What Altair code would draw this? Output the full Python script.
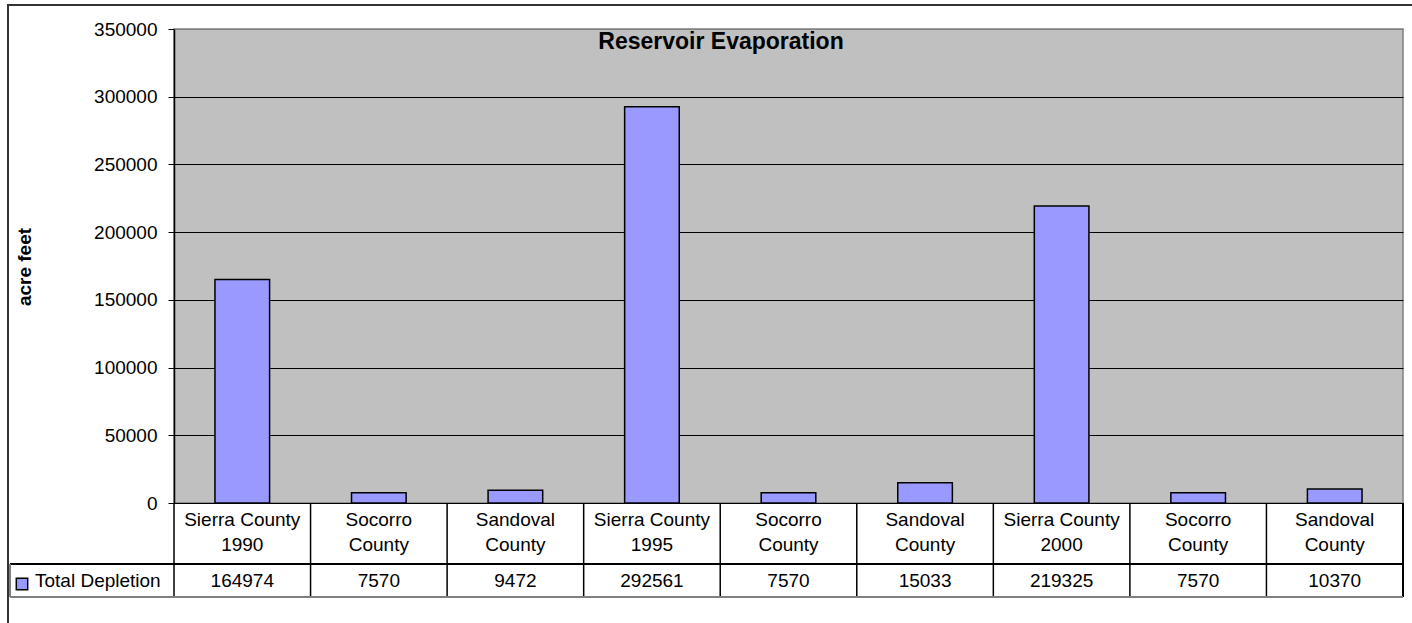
import altair as alt
import pandas as pd

# Chart content
chart_title = "Reservoir Evaporation"
axis_title = "acre feet"
series_name = "Total Depletion"
label_top = ["Sierra County", "Socorro", "Sandoval",
             "Sierra County", "Socorro", "Sandoval",
             "Sierra County", "Socorro", "Sandoval"]
label_bottom = ["1990", "County", "County",
                "1995", "County", "County",
                "2000", "County", "County"]
total_depletion = [164974, 7570, 9472, 292561, 7570, 15033, 219325, 7570, 10370]
y_ticks = [0, 50000, 100000, 150000, 200000, 250000, 300000, 350000]

FONT = "Liberation Sans"
BAR_FILL = "#9999FF"

df = pd.DataFrame({
    "slot": list(range(len(total_depletion))),
    "label": [a + "\n" + b for a, b in zip(label_top, label_bottom)],
    "value": total_depletion,
})

W, H = 1229, 474

x_enc = alt.X("slot:O", scale=alt.Scale(paddingInner=0, paddingOuter=0), axis=None)

base = alt.Chart(df)

bars = base.mark_bar(
    width=alt.RelativeBandSize(0.4), color=BAR_FILL, stroke="black", strokeWidth=1.5
).encode(
    x=x_enc,
    y=alt.Y(
        "value:Q",
        scale=alt.Scale(domain=[0, 350000], nice=False, zero=True),
        axis=alt.Axis(
            values=y_ticks, title=None, format="d",
            grid=True,
            gridColor={"condition": {"test": "datum.value === 350000", "value": "#808080"},
                       "value": "black"},
            gridWidth=1,
            domainColor="black", domainWidth=1.5,
            tickColor="black", tickSize=6,
            labelFont=FONT, labelFontSize=19, labelColor="black", labelPadding=11,
        ),
    ),
)

# Data table: category labels and values under the plot
cat_labels = base.mark_text(
    font=FONT, fontSize=19, color="black", lineBreak="\n", lineHeight=25, baseline="middle"
).encode(x=x_enc, y=alt.value(H + 17), text="label:N")

value_labels = base.mark_text(
    font=FONT, fontSize=19, color="black", baseline="middle"
).encode(x=x_enc, y=alt.value(H + 78), text=alt.Text("value:Q", format="d"))

col_rules = base.mark_rule(color="black", strokeWidth=1.5).encode(
    x=alt.X("slot:O", bandPosition=0, scale=alt.Scale(paddingInner=0, paddingOuter=0), axis=None),
    y=alt.value(H), y2=alt.value(H + 94),
)
right_rule = base.mark_rule(color="black", strokeWidth=1.5).encode(
    x=alt.value(W), y=alt.value(H), y2=alt.value(H + 94)
)
row_rule = base.mark_rule(color="black", strokeWidth=1.5).encode(
    x=alt.value(-164), x2=alt.value(W), y=alt.value(H + 61)
)
bottom_rule = base.mark_rule(color="#808080", strokeWidth=2).encode(
    x=alt.value(-164), x2=alt.value(W), y=alt.value(H + 94)
)
left_rule = base.mark_rule(color="#808080", strokeWidth=2).encode(
    x=alt.value(-164), y=alt.value(H + 61), y2=alt.value(H + 94)
)

legend_df = pd.DataFrame({"name": [series_name]})
legend_symbol = alt.Chart(legend_df).mark_point(
    shape="square", filled=True, fill=BAR_FILL, stroke="black", strokeWidth=1.5, size=130, opacity=1
).encode(x=alt.value(-152), y=alt.value(H + 81))
legend_text = alt.Chart(legend_df).mark_text(
    font=FONT, fontSize=19, color="black", align="left", baseline="middle"
).encode(x=alt.value(-139), y=alt.value(H + 78), text="name:N")

# Title and y-axis title
title_df = pd.DataFrame({"t": [chart_title]})
title = alt.Chart(title_df).mark_text(
    font=FONT, fontSize=23, fontWeight="bold", color="black", baseline="alphabetic"
).encode(x=alt.value(547), y=alt.value(20), text="t:N")

ytitle_df = pd.DataFrame({"t": [axis_title]})
ytitle = alt.Chart(ytitle_df).mark_text(
    font=FONT, fontSize=19, fontWeight="bold", color="black", angle=270, baseline="middle"
).encode(x=alt.value(-149), y=alt.value(238), text="t:N")

# Outer chart border (top and left edges)
frame_top = alt.Chart(title_df).mark_rule(color="#333333", strokeWidth=2).encode(
    x=alt.value(-167), x2=alt.value(W + 10), y=alt.value(-24)
)
frame_left = alt.Chart(title_df).mark_rule(color="#333333", strokeWidth=2).encode(
    x=alt.value(-166), y=alt.value(-24), y2=alt.value(H + 120)
)

chart = alt.layer(
    bars, col_rules, right_rule, row_rule, bottom_rule, left_rule,
    cat_labels, value_labels, legend_symbol, legend_text, title, ytitle,
    frame_top, frame_left,
).properties(
    width=W, height=H,
    autosize=alt.AutoSizeParams(type="none"),
    padding={"left": 174, "top": 29, "right": 9, "bottom": 120},
    background="white",
).configure_view(
    fill="#C0C0C0", stroke="#808080", strokeWidth=1.5
)

chart.save("out.html", embed_options={"renderer": "svg", "actions": False})
